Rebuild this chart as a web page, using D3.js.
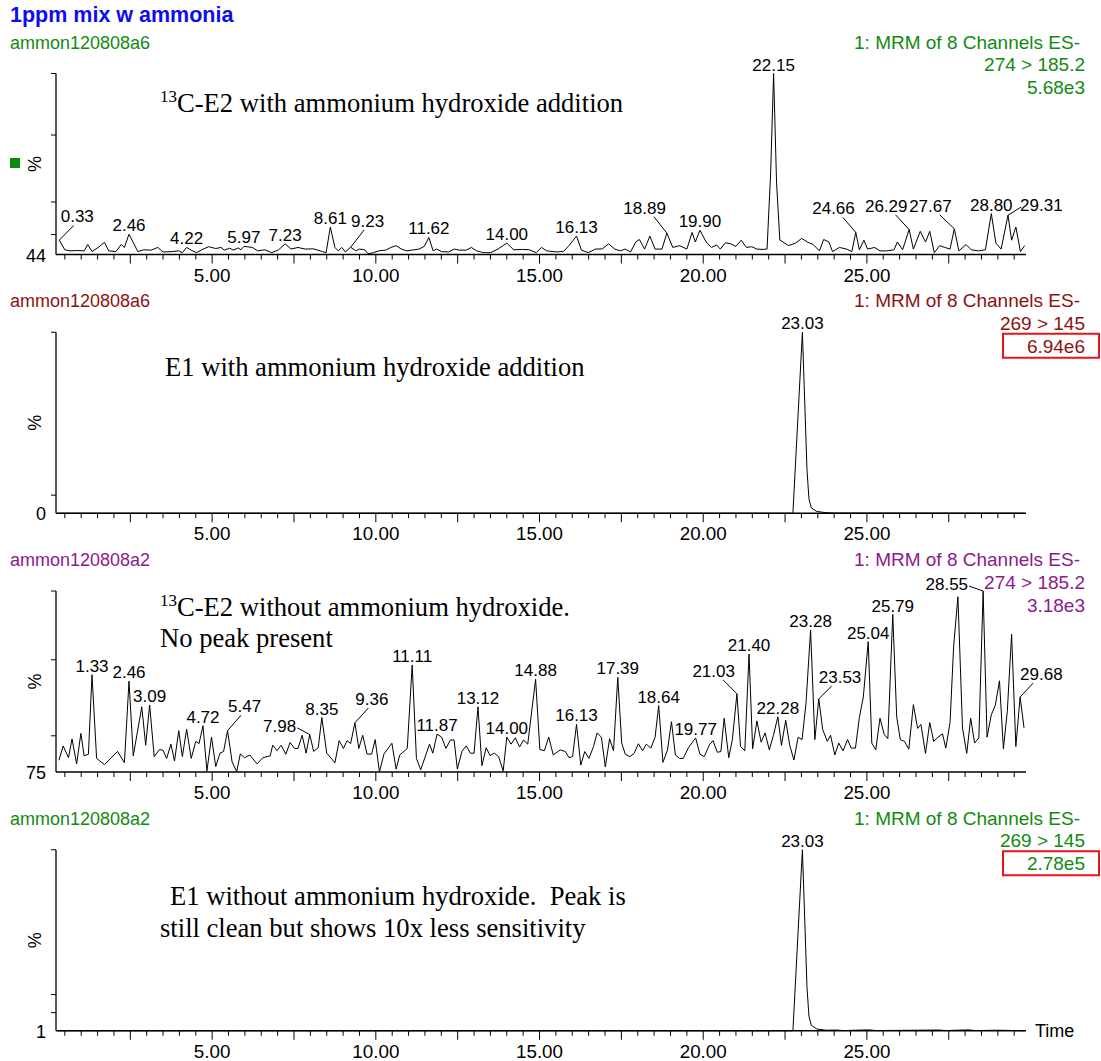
<!DOCTYPE html>
<html><head><meta charset="utf-8">
<script src="https://cdn.jsdelivr.net/npm/d3@7"></script>
<style>body{margin:0;background:#fff;} svg{display:block;}</style>
</head><body>
<svg id="chart" width="1101" height="1061"></svg>
<script>
// ---------------- DATA ----------------
const chartTitle = "1ppm mix w ammonia";
const channelHeader = "1: MRM of 8 Channels ES-";
const fileNames = ["ammon120808a6", "ammon120808a6", "ammon120808a2", "ammon120808a2"];
const transitions = ["274 > 185.2", "269 > 145", "274 > 185.2", "269 > 145"];
const maxIntensities = ["5.68e3", "6.94e6", "3.18e3", "2.78e5"];
const minIntensities = ["44", "0", "75", "1"];
const xTickLabels = [5, 10, 15, 20, 25];
const xDomain = [0.23, 29.86];

// traces: [retention time (min), relative intensity %]
const trace13C_with = [[0.33,7.9],[0.50,2.6],[0.66,2.0],[0.88,2.2],[1.09,2.0],[1.20,5.5],[1.33,1.6],[1.52,3.9],[1.71,6.7],[1.84,2.0],[2.06,1.6],[2.22,5.5],[2.32,3.9],[2.46,11.2],[2.73,1.6],[2.91,2.6],[3.13,2.4],[3.34,3.9],[3.50,1.4],[3.77,1.6],[3.98,2.0],[4.09,1.0],[4.22,3.9],[4.36,2.4],[4.52,1.0],[4.68,2.6],[4.89,4.3],[5.11,3.3],[5.27,3.9],[5.37,2.4],[5.54,3.5],[5.64,2.4],[5.80,3.6],[5.88,2.6],[5.97,4.5],[6.23,3.9],[6.39,2.0],[6.61,2.6],[6.82,1.0],[7.03,2.6],[7.23,5.9],[7.41,3.0],[7.62,3.9],[7.84,3.0],[8.10,3.1],[8.37,1.6],[8.48,1.0],[8.61,15.2],[8.75,3.9],[8.85,2.0],[8.96,3.9],[9.07,1.4],[9.23,4.0],[9.39,2.0],[9.50,3.0],[9.66,2.6],[9.76,0.4],[9.93,1.0],[10.09,2.0],[10.30,2.4],[10.46,3.9],[10.62,4.9],[10.78,3.0],[10.94,2.0],[11.10,2.4],[11.32,3.0],[11.48,4.5],[11.62,9.4],[11.75,2.0],[11.85,3.0],[12.01,1.6],[12.23,1.4],[12.39,3.0],[12.55,2.4],[12.76,2.4],[12.92,3.9],[13.08,2.0],[13.30,1.0],[13.51,1.0],[13.73,3.0],[14.00,6.3],[14.21,2.6],[14.48,2.8],[14.69,2.6],[14.90,1.0],[15.06,3.9],[15.22,2.0],[15.53,1.4],[15.74,1.8],[15.90,4.9],[16.13,10.2],[16.28,2.4],[16.49,1.0],[16.71,3.0],[16.92,3.1],[17.11,5.9],[17.30,3.0],[17.46,2.0],[17.62,3.0],[17.78,1.4],[17.94,6.9],[18.05,8.3],[18.21,3.0],[18.37,10.2],[18.53,3.0],[18.74,3.0],[18.89,11.8],[19.07,3.9],[19.28,4.9],[19.50,3.0],[19.66,12.2],[19.76,6.9],[19.90,13.4],[20.09,6.9],[20.25,3.9],[20.41,5.3],[20.52,3.0],[20.68,6.5],[20.84,5.9],[21.00,4.5],[21.16,7.9],[21.32,3.9],[21.48,4.3],[21.64,3.0],[21.80,2.8],[21.95,3.0],[22.06,45],[22.15,100],[22.24,40],[22.34,8],[22.61,4.9],[22.82,6.3],[23.01,8.9],[23.20,6.7],[23.36,5.5],[23.55,2.0],[23.68,8.3],[23.84,6.9],[23.95,1.6],[24.16,3.9],[24.38,3.0],[24.54,1.6],[24.66,12.2],[24.77,2.6],[24.91,7.9],[25.02,3.0],[25.24,3.9],[25.40,2.0],[25.61,2.0],[25.83,2.6],[25.93,6.9],[26.09,2.6],[26.29,13.8],[26.42,3.0],[26.63,12.8],[26.79,6.9],[26.92,12.8],[27.06,1.0],[27.22,4.9],[27.38,3.9],[27.54,3.0],[27.67,14.2],[27.81,2.0],[28.03,5.5],[28.19,2.6],[28.40,2.0],[28.62,2.6],[28.80,22.6],[28.94,6.3],[29.10,3.0],[29.31,21.7],[29.42,7.9],[29.55,15.2],[29.69,1.6],[29.82,4.9]];

const traceE1_with = [[0.30,0],[22.74,0],[23.03,100],[23.17,24],[23.23,8],[23.30,3],[23.47,1],[23.75,0.3],[24.0,0.1],[29.82,0]];

const trace13C_without = [[0.32,6.5],[0.45,14.4],[0.61,7.9],[0.72,18.3],[0.86,4.5],[0.99,21.3],[1.09,8.9],[1.22,9.8],[1.33,53.7],[1.47,7.5],[1.71,4.1],[2.11,11.4],[2.32,5.1],[2.46,50.2],[2.59,8.9],[2.85,36.0],[2.97,14.8],[3.09,37.0],[3.23,8.5],[3.39,12.4],[3.50,12.0],[3.61,7.5],[3.74,15.4],[3.85,6.1],[3.98,22.8],[4.09,8.5],[4.22,23.6],[4.36,7.5],[4.50,16.9],[4.60,15.7],[4.72,25.6],[4.84,0.6],[4.98,19.3],[5.11,3.0],[5.24,10.4],[5.35,11.4],[5.47,22.8],[5.61,5.5],[5.75,0.2],[5.86,10.0],[5.99,7.9],[6.15,9.4],[6.37,4.5],[6.55,7.9],[6.77,8.9],[6.85,14.8],[6.98,11.8],[7.11,14.8],[7.25,9.8],[7.38,16.3],[7.52,13.0],[7.62,13.0],[7.75,20.3],[7.87,10.4],[7.98,20.7],[8.10,11.4],[8.24,13.4],[8.35,30.1],[8.50,10.4],[8.75,5.1],[8.88,17.3],[9.01,13.0],[9.12,17.3],[9.23,15.7],[9.36,27.2],[9.48,13.0],[9.60,20.3],[9.73,10.0],[9.87,9.8],[9.98,17.9],[10.11,0],[10.25,10.0],[10.49,15.9],[10.62,1.6],[10.73,9.4],[10.96,13.0],[11.11,59.1],[11.24,7.5],[11.37,1.2],[11.64,15.4],[11.74,10.4],[11.87,20.9],[12.01,19.3],[12.14,13.0],[12.28,17.7],[12.39,17.7],[12.49,1.6],[12.63,11.4],[12.76,14.4],[12.89,10.4],[13.00,10.4],[13.12,36.0],[13.24,3.5],[13.37,13.4],[13.49,9.1],[13.62,10.4],[13.75,8.5],[13.89,0.6],[14.00,19.3],[14.13,15.4],[14.26,18.9],[14.39,13.8],[14.51,17.7],[14.64,15.4],[14.88,51.2],[15.01,12.4],[15.15,11.8],[15.28,19.3],[15.42,9.4],[15.63,12.2],[15.79,11.3],[15.90,7.9],[16.01,8.5],[16.13,26.3],[16.26,3.8],[16.38,11.3],[16.51,7.5],[16.65,14.1],[16.76,21.6],[16.89,19.2],[17.01,2.8],[17.14,18.4],[17.26,11.7],[17.39,52.3],[17.51,16.0],[17.62,9.8],[17.76,8.5],[17.89,10.3],[18.02,15.6],[18.15,11.7],[18.26,15.4],[18.40,13.2],[18.53,19.2],[18.64,36.7],[18.77,5.3],[18.91,12.2],[19.03,27.8],[19.15,9.4],[19.28,7.5],[19.39,7.5],[19.55,13.5],[19.77,18.8],[19.90,9.8],[20.03,8.5],[20.19,15.0],[20.30,17.3],[20.43,10.9],[20.54,11.3],[20.64,29.7],[20.78,7.9],[20.89,17.9],[21.03,43.2],[21.14,14.1],[21.27,11.7],[21.40,65.2],[21.51,12.8],[21.64,28.2],[21.77,16.5],[21.89,21.6],[22.02,12.2],[22.15,20.7],[22.28,30.5],[22.39,14.7],[22.52,28.6],[22.64,15.0],[22.77,6.6],[22.90,19.2],[23.02,17.9],[23.14,38.0],[23.28,78.4],[23.41,17.9],[23.53,40.4],[23.65,23.5],[23.79,16.9],[23.89,20.3],[24.02,9.4],[24.14,16.0],[24.27,11.7],[24.41,17.9],[24.52,13.2],[24.65,13.2],[24.77,30.1],[24.89,41.4],[25.04,72.0],[25.15,16.0],[25.27,12.2],[25.40,29.7],[25.53,20.7],[25.64,18.4],[25.79,87.0],[25.91,30.5],[26.02,17.9],[26.15,16.9],[26.28,12.6],[26.42,37.2],[26.55,24.1],[26.65,26.3],[26.79,10.3],[26.92,27.3],[27.04,16.9],[27.17,19.2],[27.31,21.1],[27.41,13.2],[27.54,27.3],[27.65,69.5],[27.78,96.8],[27.92,24.4],[28.05,10.3],[28.17,29.7],[28.29,16.0],[28.42,18.8],[28.55,100],[28.67,19.2],[28.80,31.6],[28.92,36.7],[29.05,50.4],[29.17,12.8],[29.29,33.8],[29.42,76.1],[29.55,14.1],[29.68,41.4],[29.80,24.4]];

const traceE1_without = [[0.30,0],[22.74,0],[23.03,100],[23.17,24],[23.23,8],[23.30,3],[23.47,1],[23.75,0.3],[24.05,0.4],[24.3,0.1],[25.05,0.5],[25.3,0.1],[27.2,0.4],[27.4,0.1],[28.1,0.5],[28.3,0.1],[29.0,0.3],[29.82,0]];

// peak labels: rt = labelled retention time; lt/lp = label centre time / baseline % when offset with a leader
const peaks13C_with = [{rt:"0.33",lt:0.88,lp:17.7},{rt:"2.46"},{rt:"4.22"},{rt:"5.97"},{rt:"7.23"},{rt:"8.61"},{rt:"9.23",lt:9.75,lp:15.2},{rt:"11.62"},{rt:"14.00"},{rt:"16.13"},{rt:"18.89",lt:18.21,lp:22.6},{rt:"19.90"},{rt:"22.15"},{rt:"24.66",lt:23.98,lp:22.2},{rt:"26.29",lt:25.59,lp:23.6},{rt:"27.67",lt:26.94,lp:23.6},{rt:"28.80"},{rt:"29.31",lt:30.33,lp:24.0}];
const peaksE1_with = [{rt:"23.03"}];
const peaks13C_without = [{rt:"1.33"},{rt:"2.46"},{rt:"3.09"},{rt:"4.72"},{rt:"5.47",lt:5.99,lp:33},{rt:"7.98",lt:7.06,lp:22.2},{rt:"8.35"},{rt:"9.36",lt:9.88,lp:37},{rt:"11.11"},{rt:"11.87"},{rt:"13.12"},{rt:"14.00"},{rt:"14.88"},{rt:"16.13"},{rt:"17.39"},{rt:"18.64"},{rt:"19.77"},{rt:"21.03",lt:20.32,lp:52.6},{rt:"21.40"},{rt:"22.28"},{rt:"23.28"},{rt:"23.53",lt:24.18,lp:49.2},{rt:"25.04"},{rt:"25.79"},{rt:"28.55",lt:27.44,lp:100.5},{rt:"29.68",lt:30.33,lp:50.8}];
const peaksE1_without = [{rt:"23.03"}];

// y-axis tick positions (% of full scale)
const yTicks = [[11,29,66,100],[10,100],[20,62,100],[10,20,100]];

const notes = [
  [{sup:"13", text:"C-E2 with ammonium hydroxide addition"}],
  [{text:"E1 with ammonium hydroxide addition"}],
  [{sup:"13", text:"C-E2 without ammonium hydroxide."},{text:"No peak present"}],
  [{text:"E1 without ammonium hydroxide.\u00a0 Peak is"},{text:"still clean but shows 10x less sensitivity"}]
];

// ---------------- STYLE / LAYOUT ----------------
const colors = ["#128a12", "#8c1212", "#8c1a8c", "#128a12"];
const BLUE = "#0d0df0", BOXRED = "#e8141c";
const SANS = "'Liberation Sans', Arial, sans-serif";
const SERIF = "'Liberation Serif', 'Times New Roman', serif";
const traces = [trace13C_with, traceE1_with, trace13C_without, traceE1_without];
const peakSets = [peaks13C_with, peaksE1_with, peaks13C_without, peaksE1_without];
const noteLayout = [
  [{x:160, dy:38.5}],
  [{x:165, dy:43.75}],
  [{x:160, dy:25},{x:160, dy:56}],
  [{x:170, dy:55},{x:160, dy:87}]
];
const TOP0 = 73.5, PITCH = 258.75, PH = 181;

const svg = d3.select("#chart");
svg.append("rect").attr("width",1101).attr("height",1061).attr("fill","#fff");

const x = d3.scaleLinear().domain(xDomain).range([56, 1026]);

svg.append("text").attr("x",10).attr("y",22).attr("font-family",SANS).attr("font-weight","bold")
  .attr("font-size",21.5).attr("fill",BLUE).text(chartTitle);

for (let i = 0; i < 4; i++) {
  const top = TOP0 + i*PITCH, base = top + PH;
  const y = d3.scaleLinear().domain([0,100]).range([base, top]);
  const g = svg.append("g");
  const col = colors[i];

  // file name + header
  g.append("text").attr("x",10).attr("y",top-25).attr("font-family",SANS).attr("font-size",18)
    .attr("fill",col).text(fileNames[i]);
  g.append("text").attr("x",1080).attr("y",top-25).attr("text-anchor","end").attr("font-family",SANS)
    .attr("font-size",19).attr("fill",col).text(channelHeader);
  g.append("text").attr("x",1085).attr("y",top-2.5).attr("text-anchor","end").attr("font-family",SANS)
    .attr("font-size",19).attr("fill",col).text(transitions[i]);
  const mx = g.append("text").attr("x",1085).attr("y",top+20.5).attr("text-anchor","end").attr("font-family",SANS)
    .attr("font-size",19).attr("fill",col).text(maxIntensities[i]);
  if (i === 1 || i === 3) {
    g.append("rect").attr("x",1003).attr("y",top+1.5).attr("width",96).attr("height",24)
      .attr("fill","none").attr("stroke",BOXRED).attr("stroke-width",2);
  }

  // trace
  g.append("path").datum(traces[i])
    .attr("d", d3.line().x(d=>x(d[0])).y(d=>y(d[1])))
    .attr("fill","none").attr("stroke","#000").attr("stroke-width",1).attr("stroke-linejoin","miter");

  // axes
  g.append("line").attr("x1",56).attr("x2",56).attr("y1",top).attr("y2",base).attr("stroke","#000").attr("stroke-width",1.3);
  g.append("line").attr("x1",56).attr("x2",1026).attr("y1",base).attr("y2",base).attr("stroke","#000").attr("stroke-width",1.3);
  const xt = d3.range(0.5, 29.9, 0.5);
  g.selectAll(null).data(xt).enter().append("line")
    .attr("x1",d=>x(d)).attr("x2",d=>x(d)).attr("y1",base)
    .attr("y2",d=> (Math.abs(d/2.5 - Math.round(d/2.5))<1e-6) ? base+9 : base+5)
    .attr("stroke","#000").attr("stroke-width",1);
  g.selectAll(null).data(xTickLabels).enter().append("text")
    .attr("x",d=>x(d)).attr("y",base+27).attr("text-anchor","middle").attr("font-family",SANS)
    .attr("font-size",18.8).attr("fill","#000").text(d=>d3.format(".2f")(d));
  g.selectAll(null).data(yTicks[i]).enter().append("line")
    .attr("x1",51).attr("x2",56).attr("y1",d=>y(d)).attr("y2",d=>y(d)).attr("stroke","#000").attr("stroke-width",1);
  g.append("text").attr("x",46).attr("y",base+7).attr("text-anchor","end").attr("font-family",SANS)
    .attr("font-size",18).attr("fill","#000").text(minIntensities[i]);
  g.append("text").attr("transform",`translate(41,${top+PH/2}) rotate(-90)`).attr("text-anchor","middle")
    .attr("font-family",SANS).attr("font-size",18).attr("fill","#000").text("%");
  if (i === 0) {
    g.append("rect").attr("x",10).attr("y",top+PH/2-6).attr("width",10).attr("height",10).attr("fill","#0a8a0a");
  }
  if (i === 3) {
    g.append("text").attr("x",1035).attr("y",base+6).attr("font-family",SANS).attr("font-size",18)
      .attr("fill","#000").text("Time");
  }

  // notes
  notes[i].forEach((n, k) => {
    const L = noteLayout[i][k];
    const t = g.append("text").attr("x",L.x).attr("y",top+L.dy).attr("font-family",SERIF)
      .attr("font-size",26.6).attr("fill","#000");
    if (n.sup) t.append("tspan").attr("font-size",17).attr("dy",-10).text(n.sup);
    t.append("tspan").attr("dy", n.sup ? 10 : 0).text(n.text);
  });

  // peak labels
  const tr = traces[i];
  peakSets[i].forEach(p => {
    const rt = +p.rt;
    const near = tr.filter(d => Math.abs(d[0]-rt) <= 0.05);
    const apex = near.length ? near.reduce((a,b)=> b[1]>a[1]?b:a) : tr.reduce((a,b)=> Math.abs(b[0]-rt)<Math.abs(a[0]-rt)?b:a);
    const px = x(apex[0]), py = y(apex[1]);
    if (p.lt === undefined) {
      g.append("text").attr("x",px).attr("y",py-3).attr("text-anchor","middle").attr("font-family",SANS)
        .attr("font-size",17).attr("fill","#000").text(p.rt);
    } else {
      const lx = x(p.lt), ly = y(p.lp);
      const t = g.append("text").attr("x",lx).attr("y",ly).attr("text-anchor","middle").attr("font-family",SANS)
        .attr("font-size",17).attr("fill","#000").text(p.rt);
      const w = t.node().getComputedTextLength();
      const right = lx > px;
      let ex, ey;
      if (py >= ly - 14 && py <= ly + 8) {
        ex = right ? lx - w/2 + 1 : lx + w/2 + 1; ey = ly - 4;
      } else {
        ex = right ? lx - w/2 + 13 : lx + w/2 - 12; ey = ly + 3;
      }
      g.append("line").attr("x1",px).attr("y1",py).attr("x2",ex).attr("y2",ey)
        .attr("stroke","#000").attr("stroke-width",1);
    }
  });
}
</script>
</body></html>
